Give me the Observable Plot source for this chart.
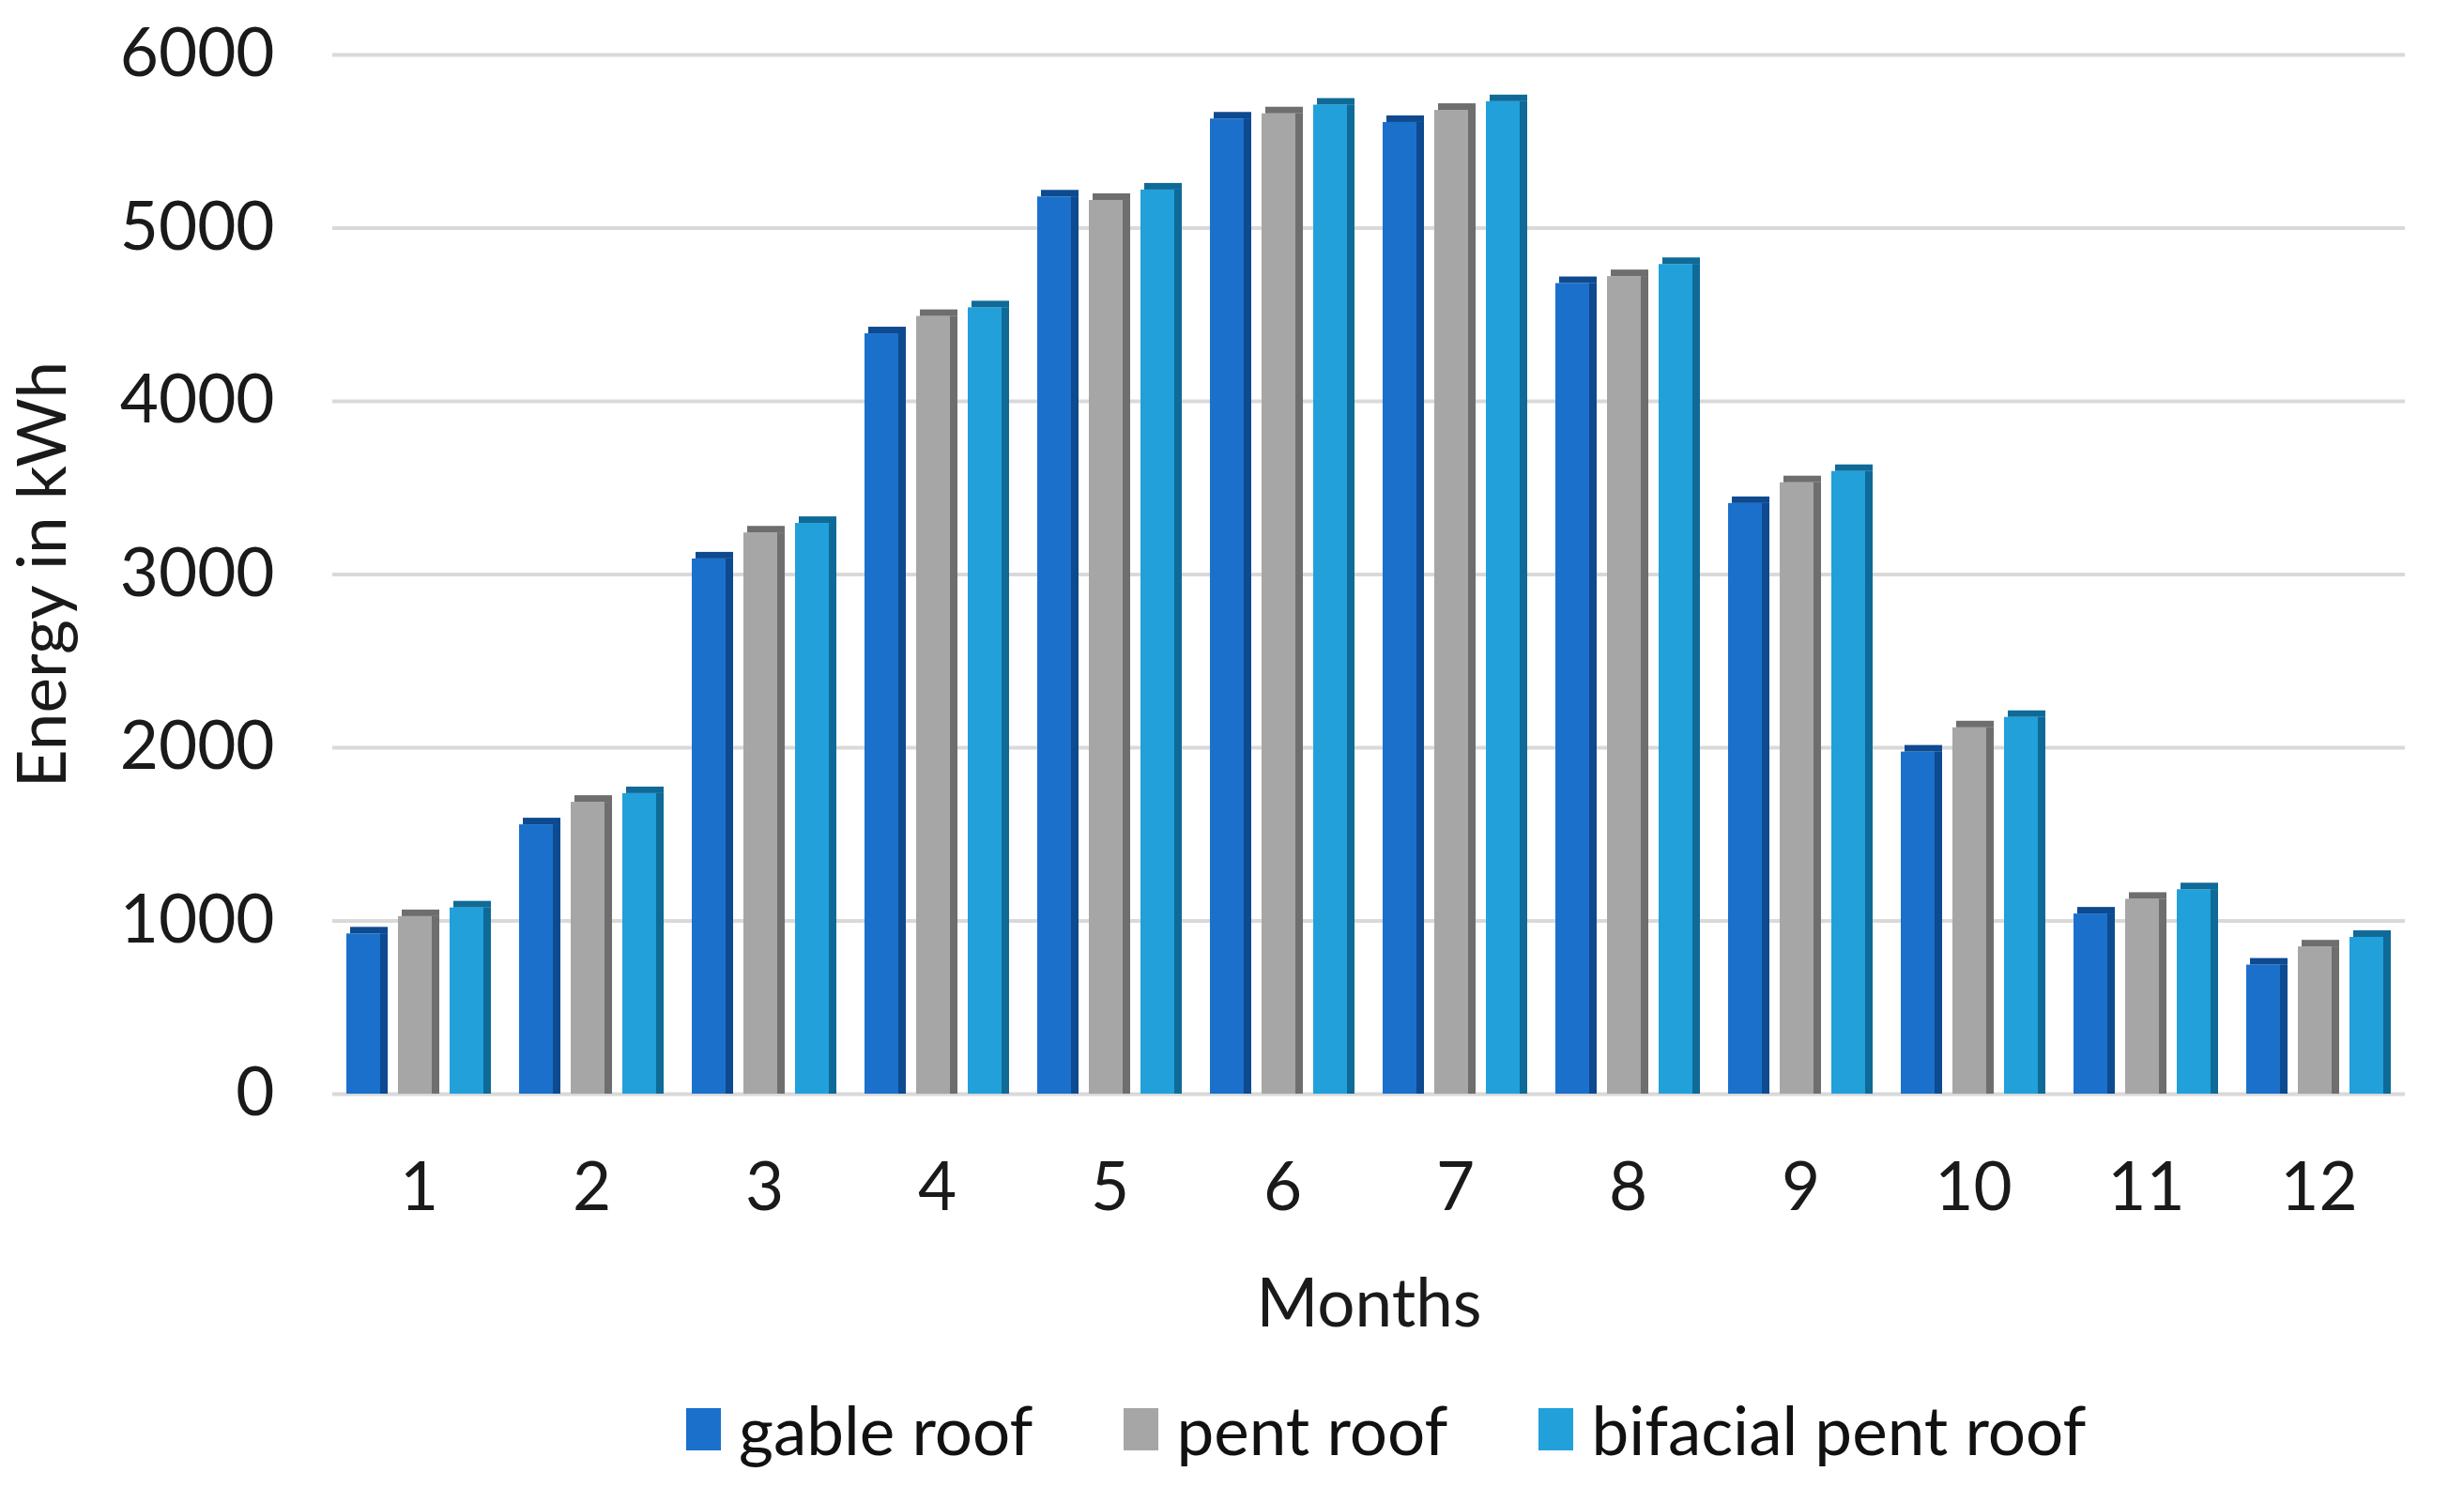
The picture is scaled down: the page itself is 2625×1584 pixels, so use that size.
<!DOCTYPE html>
<html>
<head>
<meta charset="utf-8">
<script src="https://cdn.jsdelivr.net/npm/d3@7"></script>
<script src="https://cdn.jsdelivr.net/npm/@observablehq/plot@0.6"></script>
<style>
  html, body { margin: 0; padding: 0; background: #fff; }
  #chart { width: 2625px; }
  #legend { display: flex; justify-content: flex-start; align-items: center; height: 124px; padding-left: 731px;
    font-family: Lato, "Open Sans", sans-serif; font-size: 71px; color: #111; }
  .item { display: flex; align-items: center; margin-right: 97px; }
  .sw { width: 37px; height: 45px; margin-right: 19px; }
</style>
</head>
<body>
<div id="chart"></div>
<div id="legend"></div>
<script>
const months = [1, 2, 3, 4, 5, 6, 7, 8, 9, 10, 11, 12];
const series = ["gable roof", "pent roof", "bifacial pent roof"];
const gableRoof    = [925, 1555, 3090, 4390, 5180, 5630, 5610, 4680, 3410, 1975, 1040, 745];
const pentRoof     = [1025, 1685, 3240, 4490, 5160, 5660, 5680, 4720, 3530, 2115, 1125, 850];
const bifacialRoof = [1075, 1735, 3295, 4540, 5220, 5710, 5730, 4790, 3595, 2175, 1180, 905];
const yTicks = [0, 1000, 2000, 3000, 4000, 5000, 6000];
const frontColors = ["#1b70cb", "#a6a6a6", "#21a0da"];
const sideColors = ["#0d4a90", "#6e6e6e", "#0f6a98"];

const valuesBySeries = [gableRoof, pentRoof, bifacialRoof];
const data = months.flatMap((m, i) => series.map((s, j) => ({month: m, series: s, value: valuesBySeries[j][i], side: sideColors[j]})));

const chart = Plot.plot({
  width: 2625,
  height: 1460,
  marginLeft: 348,
  marginRight: 58,
  marginTop: 58,
  marginBottom: 295,
  style: {fontFamily: "Lato, 'Open Sans', sans-serif", fontSize: "71px", color: "#1a1a1a", background: "#fff"},
  fx: {padding: 0, label: "Months", tickSize: 0, tickPadding: 73, labelOffset: 247, labelAnchor: "center"},
  x: {axis: null, domain: series, paddingInner: 0.2, paddingOuter: 0.27},
  y: {domain: [0, 6000], ticks: yTicks, tickFormat: d3.format("d"), tickSize: 0, tickPadding: 62, label: "Energy in kWh", labelAnchor: "center", labelOffset: 335, labelArrow: "none"},
  color: {domain: series, range: frontColors},
  marks: [
    Plot.ruleY(yTicks, {stroke: "#d9d9d9", strokeWidth: 4}),
    Plot.barY(data, {fx: "month", x: "series", y: "value", fill: "series"}),
    Plot.barY(data, {fx: "month", x: "series", y: "value", fill: "side", insetLeft: 36}),
    Plot.barY(data, {fx: "month", x: "series", y1: "value", y2: "value", fill: "side", insetTop: -7, insetLeft: 4})
  ]
});
document.getElementById("chart").appendChild(chart);

const legend = document.getElementById("legend");
series.forEach((s, i) => {
  const item = document.createElement("div");
  item.className = "item";
  const sw = document.createElement("div");
  sw.className = "sw";
  sw.style.background = frontColors[i];
  const t = document.createElement("span");
  t.textContent = s;
  item.appendChild(sw);
  item.appendChild(t);
  legend.appendChild(item);
});
</script>
</body>
</html>
